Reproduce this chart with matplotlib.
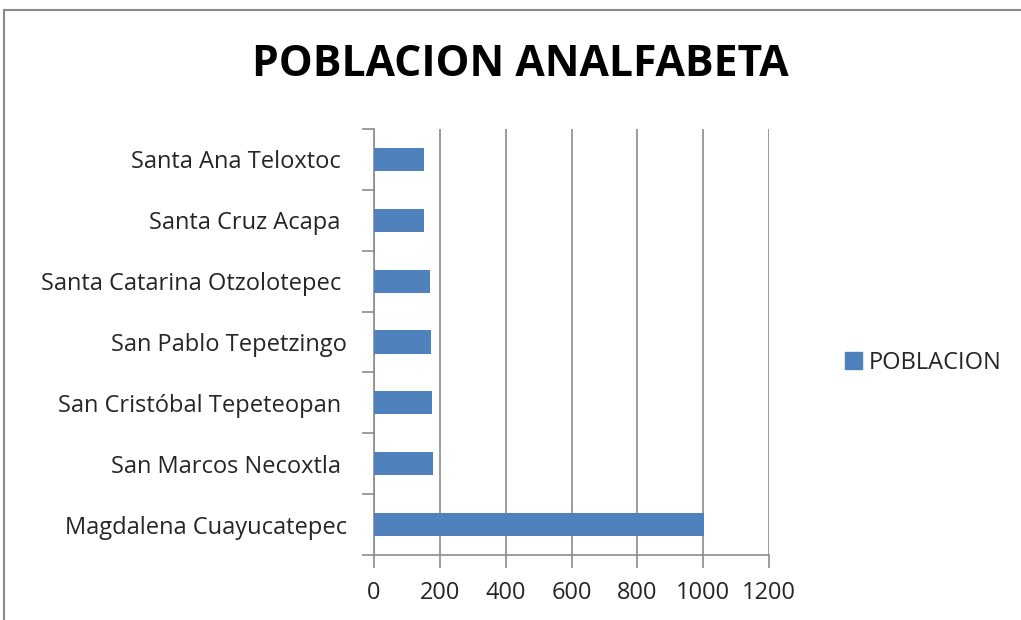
import matplotlib.pyplot as plt
from matplotlib.lines import Line2D
from matplotlib.patches import Patch

# Data (bottom to top, as in the original chart); some source labels carry a trailing space
localidades = [
    "Magdalena Cuayucatepec",
    "San Marcos Necoxtla ",
    "San Cristóbal Tepeteopan ",
    "San Pablo Tepetzingo",
    "Santa Catarina Otzolotepec ",
    "Santa Cruz Acapa ",
    "Santa Ana Teloxtoc ",
]
poblacion = [1002, 180, 177, 174, 171, 151, 151]
x_ticks = [0, 200, 400, 600, 800, 1000, 1200]

bar_color = "#4f81bd"
grid_color = "#8c8c8c"
text_color = "#262626"

plt.rcParams['font.family'] = ['Open Sans', 'DejaVu Sans']

W, H = 1021, 620
fig = plt.figure(figsize=(W / 100, H / 100), dpi=100)

# Chart area border (top and left edges visible)
fig.add_artist(Line2D([4 / W, 1], [1 - 10 / H, 1 - 10 / H], color="#8a8a8a", lw=1.5))
fig.add_artist(Line2D([4 / W, 4 / W], [0, 1 - 10 / H], color="#8a8a8a", lw=1.5))

left, right, top, bottom = 374, 769, 129, 555
ax = fig.add_axes([left / W, 1 - bottom / H, (right - left) / W, (bottom - top) / H])

ypos = range(len(localidades))
ax.barh(ypos, poblacion, height=0.38, color=bar_color, zorder=3,
        label="POBLACION")

ax.set_xlim(0, 1200)
ax.set_ylim(-0.5, len(localidades) - 0.5)
ax.set_xticks(x_ticks)
ax.set_xticklabels([str(v) for v in x_ticks], fontsize=17, color=text_color)

# category labels centred, tick marks on category boundaries
ax.set_yticks(list(ypos))
ax.set_yticklabels(localidades, fontsize=17, color=text_color)
ax.tick_params(axis='y', length=0, pad=19.5)
ax.set_yticks([i - 0.5 for i in range(len(localidades) + 1)], minor=True)
ax.tick_params(axis='y', which='minor', length=9, width=1.2, color=grid_color)
ax.tick_params(axis='x', length=9, width=1.2, color=grid_color, pad=10)

ax.grid(axis='x', color=grid_color, linewidth=1.2, zorder=0)
for side in ['top', 'right']:
    ax.spines[side].set_visible(False)
for side in ['left', 'bottom']:
    ax.spines[side].set_color(grid_color)
    ax.spines[side].set_linewidth(1.2)

fig.text(520 / W, 1 - 64 / H, "POBLACION ANALFABETA", ha='center', va='center',
         fontsize=30.7, fontweight='bold', color='black')

handle = Patch(facecolor=bar_color, edgecolor=bar_color)
fig.legend([handle], ["POBLACION"], loc='center left',
           bbox_to_anchor=(828 / W, 1 - 363 / H), frameon=False, fontsize=17,
           handlelength=0.72, handleheight=0.72, handletextpad=0.3,
           labelcolor=text_color, borderpad=0.2)

fig.savefig("out.png", dpi=100)
